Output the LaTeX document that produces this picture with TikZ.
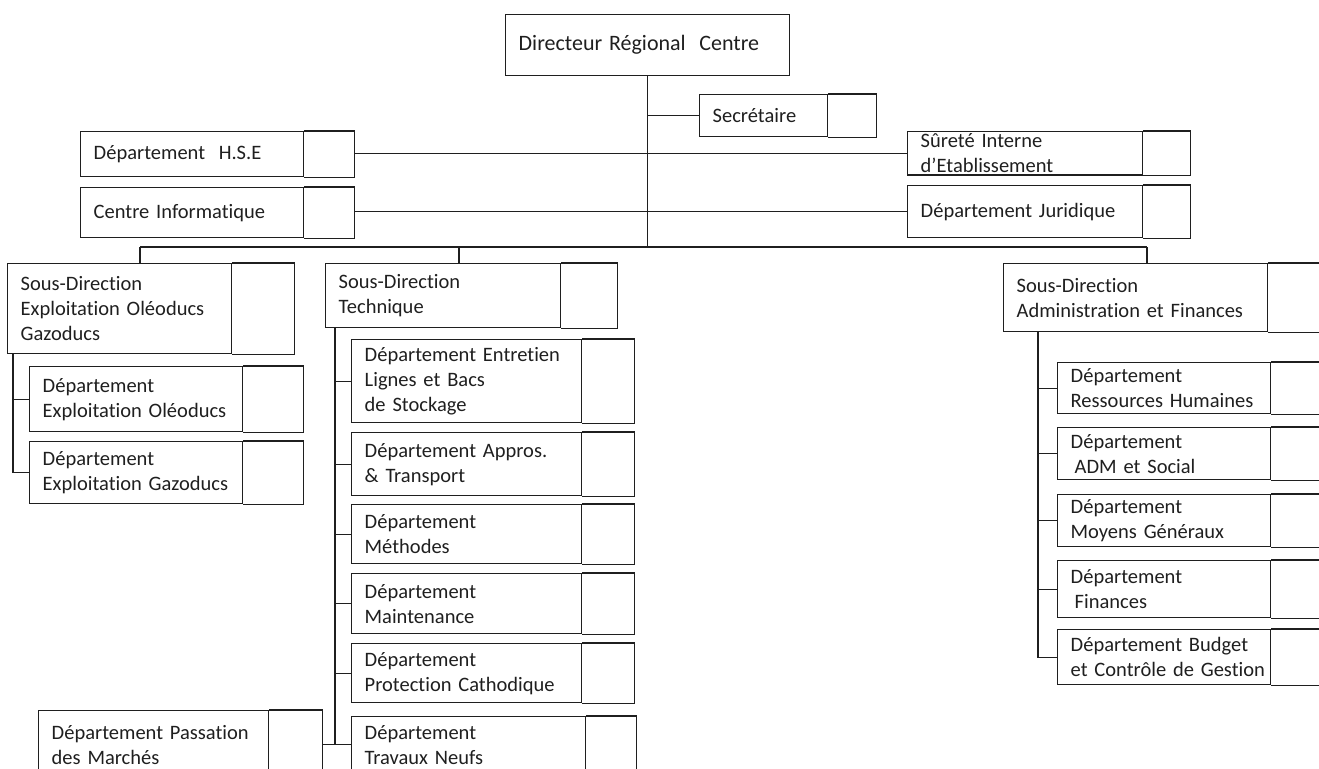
\documentclass[tikz,border=0pt]{standalone}
\usepackage{fontspec}
\setmainfont{Carlito}[Ligatures=NoCommon]

\begin{document}
\begin{tikzpicture}[
	x=1pt, y=-1pt,
	color=black!88,
	line width=1.4pt,
	every node/.style={font=\fontsize{20.5}{25}\selectfont},
	boite/.style={draw, rectangle, anchor=north west, align=left,
		inner xsep=0pt, inner ysep=2pt,
		execute at begin node={\leftskip=13pt\hyphenpenalty=10000}}]
	\useasboundingbox (0,0) rectangle (1319,768);
	\clip (0,0) rectangle (1319,768);

	% direction
	\node[boite, text width=284pt, minimum height=61pt] (dir) at (505,14) {\fontsize{22}{26}\selectfont Directeur Régional~ Centre};
	\node[boite, text width=128pt, minimum height=42pt] (secr) at (699,94) {Secrétaire};
	\node[boite, text width=223pt, minimum height=45pt] (hse) at (80,131) {Département~ H.S.E};
	\node[boite, text width=223pt, minimum height=50pt] (info) at (80,187) {Centre Informatique};
	\node[boite, text width=235pt, minimum height=43pt] (surete) at (907,131) {Sûreté Interne\\d’Etablissement};
	\node[boite, text width=235pt, minimum height=52pt] (jurid) at (907,185) {Département Juridique};

	% sous-direction exploitation
	\node[boite, text width=224pt, minimum height=90pt] (sdexp) at (7,263) {Sous-Direction\\Exploitation Oléoducs\\Gazoducs};
	\node[boite, text width=213pt, minimum height=65pt] (oleo) at (29,366) {Département\\Exploitation Oléoducs};
	\node[boite, text width=213pt, minimum height=62pt] (gazo) at (29,441) {Département\\Exploitation Gazoducs};

	% sous-direction technique
	\node[boite, text width=235pt, minimum height=64pt] (sdtech) at (325,263) {Sous-Direction\\Technique};
	\node[boite, text width=230pt, minimum height=83pt] (entr) at (351,339) {Département Entretien\\Lignes et Bacs\\de Stockage};
	\node[boite, text width=230pt, minimum height=63pt] (appro) at (351,432) {Département Appros.\\\& Transport};
	\node[boite, text width=230pt, minimum height=59pt] (meth) at (351,504) {Département\\Méthodes};
	\node[boite, text width=230pt, minimum height=60pt] (maint) at (351,573) {Département\\Maintenance};
	\node[boite, text width=230pt, minimum height=59pt] (protec) at (351,643) {Département\\Protection Cathodique};
	\node[boite, text width=234pt, minimum height=56pt] (travx) at (351,716) {Département\\Travaux Neufs};
	\node[boite, text width=230pt, minimum height=68pt] (passat) at (38,710) {Département Passation\\des Marchés};

	% sous-direction administration
	\node[boite, text width=264pt, minimum height=68pt] (sdadm) at (1003,263) {Sous-Direction\\Administration et Finances};
	\node[boite, text width=213pt, minimum height=51pt] (rh) at (1057,362) {Département\\Ressources Humaines};
	\node[boite, text width=213pt, minimum height=52pt] (adm) at (1057,427) {Département\\\hspace*{4pt}ADM et Social};
	\node[boite, text width=213pt, minimum height=52pt] (moyens) at (1057,494) {Département\\Moyens Généraux};
	\node[boite, text width=213pt, minimum height=57pt] (fin) at (1057,560) {Département\\\hspace*{4pt}Finances};
	\node[boite, text width=213pt, minimum height=55pt] (budget) at (1057,629) {Département Budget\\et Contrôle de Gestion};

	% cases vides
	\foreach \n/\w in {secr/48, hse/50, info/50, surete/47, jurid/47,
		sdexp/62, oleo/60, gazo/60, sdtech/56, entr/52, appro/52, meth/52,
		maint/52, protec/52, travx/50, passat/53, sdadm/60, rh/60, adm/60,
		moyens/60, fin/60, budget/60}
	{
		\draw (\n.north east) -| ([xshift=\w pt]\n.south east) -- (\n.south east);
		\coordinate (\n-c) at ([xshift=\w pt]\n.east);
	}

	% liaisons
	\coordinate (b1) at (140,247);
	\coordinate (b2) at (459,247);
	\coordinate (b3) at (1147,247);
	\draw (dir.south) -- (dir.south |- b1);
	\draw (b1) -- (b3);
	\draw (b1) -- (b1 |- sdexp.north);
	\draw (b2) -- (b2 |- sdtech.north);
	\draw (b3) -- (b3 |- sdadm.north);
	\draw (secr.west) -- (secr.west -| dir.south);
	\draw (surete.west) -- (surete.west -| hse-c);
	\draw (jurid.west) -- (jurid.west -| info-c);

	\coordinate (t1) at (13,0);
	\draw (t1 |- sdexp.south) |- (gazo.west);
	\draw (oleo.west) -- (oleo.west -| t1);

	\coordinate (t2) at (335,0);
	\draw (t2 |- sdtech.south) -- (t2 |- travx.west);
	\foreach \n in {entr, appro, meth, maint, protec}
		\draw (\n.west) -- (\n.west -| t2);
	\draw (passat-c) -- (travx.west);

	\coordinate (t3) at (1038,0);
	\draw (t3 |- sdadm.south) |- (budget.west);
	\foreach \n in {rh, adm, moyens, fin}
		\draw (\n.west) -- (\n.west -| t3);
\end{tikzpicture}
\end{document}
